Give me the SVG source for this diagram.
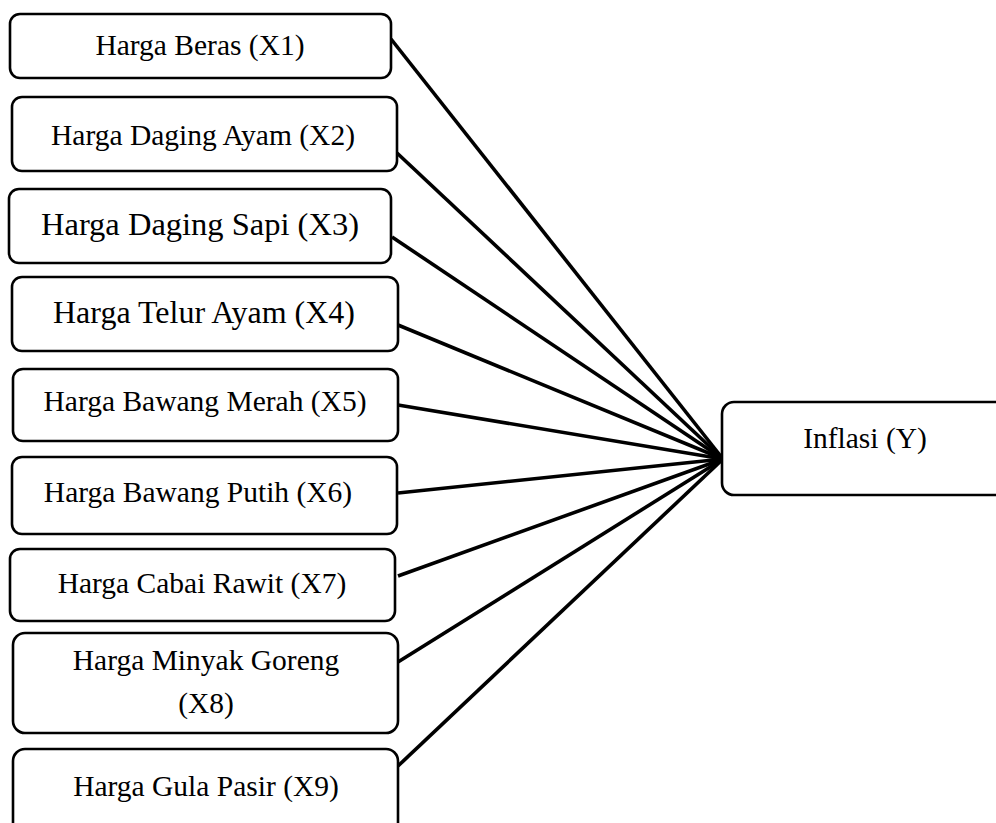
<svg xmlns="http://www.w3.org/2000/svg" width="996" height="823" viewBox="0 0 996 823">
<style>
.box{fill:#fff;stroke:#000;stroke-width:2.6}
.t{font-family:"Liberation Serif","Times New Roman",serif;font-size:29.5px;fill:#000;text-anchor:middle}
.c{stroke:#000;stroke-width:3.6;fill:none;stroke-linecap:butt}
</style>
<rect width="996" height="823" fill="#fff"/>
<g id="connectors">
<line class="c" x1="391" y1="39" x2="723" y2="459"/>
<line class="c" x1="397" y1="153" x2="723" y2="459"/>
<line class="c" x1="392" y1="237" x2="723" y2="459"/>
<line class="c" x1="398" y1="325" x2="723" y2="459"/>
<line class="c" x1="398" y1="405" x2="723" y2="459"/>
<line class="c" x1="398" y1="493" x2="723" y2="459"/>
<line class="c" x1="398" y1="576" x2="723" y2="459"/>
<line class="c" x1="398" y1="662" x2="723" y2="459"/>
<line class="c" x1="398" y1="766" x2="723" y2="459"/>
</g>
<g id="x1"><rect class="box" x="10" y="14" width="381" height="64" rx="10"/><text class="t" x="200" y="55">Harga Beras (X1)</text></g>
<g id="x2"><rect class="box" x="12" y="97" width="385" height="74" rx="10"/><text class="t" x="203" y="145">Harga Daging Ayam (X2)</text></g>
<g id="x3"><rect class="box" x="9" y="189" width="382" height="74" rx="10"/><text class="t" x="200" y="235" style="font-size:32.5px">Harga Daging Sapi (X3)</text></g>
<g id="x4"><rect class="box" x="12" y="277" width="386" height="74" rx="10"/><text class="t" x="204" y="323" style="font-size:32px">Harga Telur Ayam (X4)</text></g>
<g id="x5"><rect class="box" x="13" y="369" width="385" height="72" rx="10"/><text class="t" x="205" y="411">Harga Bawang Merah (X5)</text></g>
<g id="x6"><rect class="box" x="12" y="457" width="385" height="77" rx="10"/><text class="t" x="198" y="502">Harga Bawang Putih (X6)</text></g>
<g id="x7"><rect class="box" x="10" y="549" width="385" height="72" rx="10"/><text class="t" x="202" y="593">Harga Cabai Rawit (X7)</text></g>
<g id="x8"><rect class="box" x="13" y="633" width="385" height="100" rx="12"/><text class="t" x="206" y="670">Harga Minyak Goreng</text><text class="t" x="206" y="713">(X8)</text></g>
<g id="x9"><rect class="box" x="13" y="749" width="385" height="90" rx="12"/><text class="t" x="206" y="796">Harga Gula Pasir (X9)</text></g>
<g id="y"><rect class="box" x="722" y="402" width="300" height="93" rx="12"/><text class="t" x="865" y="448">Inflasi (Y)</text></g>
</svg>
